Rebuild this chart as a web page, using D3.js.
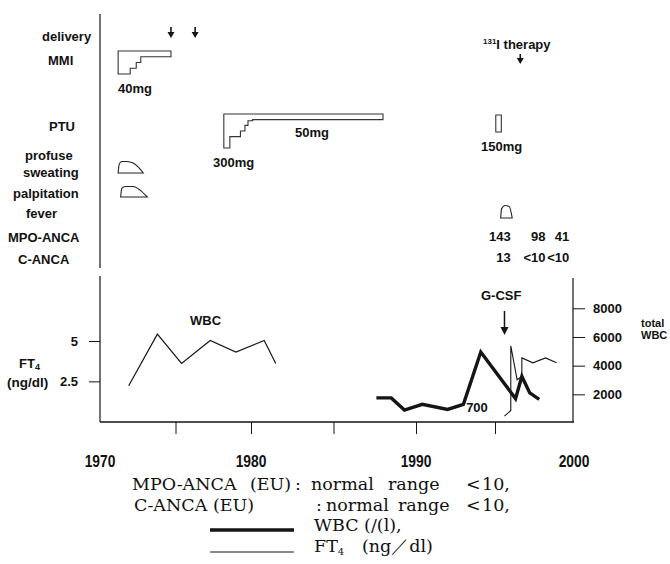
<!DOCTYPE html>
<html><head><meta charset="utf-8">
<script src="https://cdn.jsdelivr.net/npm/d3@7"></script>
<style>
body{margin:0;background:#fff}
svg{display:block}
.lab{font-family:"Liberation Sans",Arial,sans-serif;font-weight:bold;font-size:13px;fill:#111}
.leg{font-family:"DejaVu Serif","Liberation Serif",serif;font-size:17.5px;fill:#111}
</style></head><body>
<svg id="c" width="670" height="564"></svg>
<script>
// ---------- data ----------
const yearTicks = [1975, 1980, 1985, 1990, 1995];
const yearLabels = [1970, 1980, 1990, 2000];
const ft4Ticks = [2.5, 5];
const ft4TickLabels = ["2.5", "5"];
const wbcTicks = [2000, 4000, 6000, 8000];

const rowLabels = ["delivery", "MMI", "PTU", "profuse", "sweating", "palpitation", "fever", "MPO-ANCA", "C-ANCA"];

const deliveryYears = [1974.7, 1976.3];
const iodineYear = 1996.6;
const gcsfYear = 1995.6;

const mmiYears = [1971.2, 1972.0, 1972.4, 1972.7, 1974.7];
const mmiDoses = [40, 30, 20, 10, 10];
const ptuYears = [1978.2, 1978.6, 1979.3, 1979.6, 1979.8, 1980.1, 1988.0];
const ptuDoses = [300, 200, 150, 100, 60, 50, 50];
const ptu2Years = [1995.05, 1995.4];
const ptu2Doses = [150, 150];

const sweatYears = [1971.2, 1971.28, 1971.44, 1971.77, 1972.2, 1972.87];
const sweatLevel = [0, 0.78, 1, 1, 0.86, 0];
const palpYears = [1971.37, 1971.44, 1971.66, 1972.2, 1972.65, 1973.13];
const palpLevel = [0, 0.83, 1, 1, 0.66, 0];
const feverYears = [1995.36, 1995.42, 1995.63, 1995.9, 1996.09];
const feverLevel = [0, 0.75, 1, 0.92, 0];

const ancaYears = [1996.0, 1998.2, 1999.7];
const mpoAnca = ["143", "98", "41"];
const cAnca = ["13", "<10", "<10"];

const wbcEarlyYears = [1971.9, 1973.8, 1975.4, 1977.3, 1979.0, 1980.8, 1981.5];
const wbcEarly = [2600, 6200, 4150, 5750, 4950, 5750, 4150];
const wbcYears = [1987.6, 1988.5, 1989.3, 1990.4, 1992.0, 1993.0, 1994.1, 1996.3, 1996.7, 1997.2, 1997.8];
const wbcValues = [1750, 1750, 900, 1300, 950, 1300, 4950, 1700, 3250, 2100, 1650];
const ft4Years = [1995.6, 1996.0, 1996.0, 1996.4, 1996.7, 1996.7, 1997.4, 1998.2, 1998.9];
const ft4Values = [0.35, 0.7, 4.7, 2.6, 2.8, 3.95, 3.65, 3.95, 3.65];

// ---------- drawing ----------
const svg = d3.select("#c");
const x = d3.scaleLinear().domain([1970, 1980, 1990, 2000]).range([100, 251, 416, 574]);
const yFT4 = d3.scaleLinear().domain([0, 5]).range([421.7, 341]);
const yWBC = d3.scaleLinear().domain([0, 8000]).range([423, 308.3]);
const mmiScale = d3.scaleLinear().domain([0, 40]).range([0, 23]);
const ptuScale = d3.scaleLinear().domain([0, 300]).range([0, 34]);

const ink = "#151515";

// vertical frame lines
svg.append("line").attr("x1", x(1970)).attr("x2", x(1970)).attr("y1", 14).attr("y2", 268).attr("stroke", ink).attr("stroke-width", 1.2);
svg.append("line").attr("x1", x(1970)).attr("x2", x(1970)).attr("y1", 276).attr("y2", 422).attr("stroke", ink).attr("stroke-width", 1.2);
svg.append("line").attr("x1", x(2000) - 1).attr("x2", x(2000) - 1).attr("y1", 278).attr("y2", 422).attr("stroke", ink).attr("stroke-width", 1.2);

// bottom axis
const gx = svg.append("g").attr("transform", "translate(0,422)")
  .call(d3.axisBottom(x).tickValues(yearTicks).tickSize(12).tickFormat(""));
gx.select(".domain").attr("stroke", ink).attr("stroke-width", 1.3).attr("d", `M${x(1970)},0H${x(2000)}`);
gx.selectAll(".tick line").attr("stroke", ink);
svg.append("g").selectAll("text").data(yearLabels).join("text")
  .attr("class", "lab").attr("x", d => x(d)).attr("y", 467)
  .attr("text-anchor", "middle").style("font-size", "15px")
  .attr("transform", d => `translate(${x(d)},467) scale(0.92,1.15) translate(${-x(d)},-467)`)
  .text(d => d);

// left FT4 axis
const gl = svg.append("g").attr("transform", `translate(${x(1970)},0)`)
  .call(d3.axisLeft(yFT4).tickValues(ft4Ticks).tickSize(11).tickPadding(11).tickFormat((d, i) => ft4TickLabels[i]));
gl.select(".domain").remove();
gl.selectAll(".tick line").attr("stroke", ink);
gl.selectAll(".tick text").attr("class", "lab").attr("font-size", null).attr("font-family", null);

// right WBC axis
const gr = svg.append("g").attr("transform", `translate(${x(2000) - 1},0)`)
  .call(d3.axisRight(yWBC).tickValues(wbcTicks).tickSize(12).tickPadding(8).tickFormat(d3.format("d")));
gr.select(".domain").remove();
gr.selectAll(".tick line").attr("stroke", ink);
gr.selectAll(".tick text").attr("class", "lab").attr("font-size", null).attr("font-family", null);

// axis titles
const ft4t = svg.append("text").attr("class", "lab").attr("x", 19).attr("y", 368);
ft4t.append("tspan").text("FT");
ft4t.append("tspan").attr("dy", 2).style("font-size", "9px").text("4");
svg.append("text").attr("class", "lab").attr("x", 7).attr("y", 387).style("font-size", "13.5px").text("(ng/dl)");
svg.append("text").attr("class", "lab").attr("x", 641).attr("y", 327).style("font-size", "11px").text("total");
svg.append("text").attr("class", "lab").attr("x", 641).attr("y", 339).style("font-size", "11px").text("WBC");

// row labels
const rowPos = [[42, 41], [48, 65], [49, 131], [25, 160], [23, 177], [13, 198], [26, 218], [8, 242], [18, 264]];
svg.append("g").selectAll("text").data(rowLabels).join("text")
  .attr("class", "lab").attr("x", (d, i) => rowPos[i][0]).attr("y", (d, i) => rowPos[i][1]).text(d => d);

// arrows
function arrow(xc, y1, y2, head, w, sw) {
  svg.append("line").attr("x1", xc).attr("x2", xc).attr("y1", y1).attr("y2", y2 - head + 1).attr("stroke", ink).attr("stroke-width", sw);
  svg.append("path").attr("d", `M${xc - w / 2},${y2 - head}L${xc + w / 2},${y2 - head}L${xc},${y2}Z`).attr("fill", ink);
}
deliveryYears.forEach(d => arrow(x(d), 27, 38, 6, 7, 1.6));
arrow(x(iodineYear), 54, 64, 6, 7, 1.6);
arrow(x(gcsfYear), 311, 335, 8, 8, 1.5);

// 131I therapy
const it = svg.append("text").attr("class", "lab").attr("x", 483).attr("y", 49);
it.append("tspan").attr("dy", -5).style("font-size", "8px").text("131");
it.append("tspan").attr("dy", 5).text("I therapy");

// dose step shapes
function doseShape(years, doses, top, scale) {
  const pts = years.map((y, i) => ({ y, d: doses[i] }));
  const area = d3.area().curve(d3.curveStepAfter)
    .x(p => x(p.y)).y0(top).y1(p => top + scale(p.d));
  svg.append("path").attr("d", area(pts)).attr("fill", "none").attr("stroke", "#333").attr("stroke-width", 1.1);
}
doseShape(mmiYears, mmiDoses, 51, mmiScale);
doseShape(ptuYears, ptuDoses, 114, ptuScale);
doseShape(ptu2Years, ptu2Doses, 115, ptuScale);

svg.append("text").attr("class", "lab").attr("x", 118).attr("y", 93).text("40mg");
svg.append("text").attr("class", "lab").attr("x", 213).attr("y", 167).text("300mg");
svg.append("text").attr("class", "lab").attr("x", 295).attr("y", 137).text("50mg");
svg.append("text").attr("class", "lab").attr("x", 481).attr("y", 151).text("150mg");

// symptom shapes
function symptom(years, levels, base, h) {
  const pts = years.map((y, i) => ({ y, v: levels[i] }));
  const area = d3.area().curve(d3.curveMonotoneX)
    .x(p => x(p.y)).y0(base).y1(p => base - p.v * h);
  svg.append("path").attr("d", area(pts)).attr("fill", "none").attr("stroke", "#222").attr("stroke-width", 1.1);
}
symptom(sweatYears, sweatLevel, 173, 11.5);
symptom(palpYears, palpLevel, 197, 10.5);
symptom(feverYears, feverLevel, 218, 12.5);

// ANCA values
svg.append("g").selectAll("text").data(mpoAnca).join("text").attr("class", "lab")
  .attr("x", (d, i) => x(ancaYears[i])).attr("y", 241).attr("text-anchor", "end").text(d => d);
svg.append("g").selectAll("text").data(cAnca).join("text").attr("class", "lab")
  .attr("x", (d, i) => x(ancaYears[i])).attr("y", 262).attr("text-anchor", "end").text(d => d);

// lines
const lineWBC = d3.line().x(d => x(d[0])).y(d => yWBC(d[1]));
const lineFT4 = d3.line().x(d => x(d[0])).y(d => yFT4(d[1]));
svg.append("path").attr("d", lineWBC(d3.zip(wbcEarlyYears, wbcEarly)))
  .attr("fill", "none").attr("stroke", ink).attr("stroke-width", 1.2);
svg.append("path").attr("d", lineFT4(d3.zip(ft4Years, ft4Values)))
  .attr("fill", "none").attr("stroke", ink).attr("stroke-width", 1.1);
svg.append("path").attr("d", lineWBC(d3.zip(wbcYears, wbcValues)))
  .attr("fill", "none").attr("stroke", ink).attr("stroke-width", 3.4).attr("stroke-linejoin", "miter");

svg.append("text").attr("class", "lab").attr("x", 190).attr("y", 325).text("WBC");
svg.append("text").attr("class", "lab").attr("x", 477).attr("y", 412).attr("text-anchor", "middle").text("700");
svg.append("text").attr("class", "lab").attr("x", 481).attr("y", 300).text("G-CSF");

// legend
const L = svg.append("g").attr("class", "leg");
const legRows = [
  { y: 490, segs: [[132, "MPO-ANCA"], [250, "(EU)"], [295, ":"], [311, "normal"], [388, "range"], [466, "<"], [482, "10,"]] },
  { y: 510.5, segs: [[134, "C-ANCA"], [213, "(EU)"], [316, ":"], [326, "normal"], [398, "range"], [466, "<"], [482, "10,"]] }
];
legRows.forEach(r => {
  const t = L.append("text").attr("y", r.y);
  r.segs.forEach(s => t.append("tspan").attr("x", s[0]).text(s[1]));
});
L.append("line").attr("x1", 210).attr("x2", 294).attr("y1", 530).attr("y2", 530).attr("stroke", ink).attr("stroke-width", 3.4);
L.append("line").attr("x1", 210).attr("x2", 294).attr("y1", 552).attr("y2", 552).attr("stroke", ink).attr("stroke-width", 1.1);
L.append("text").attr("x", 314).attr("y", 531).text("WBC (/(l),");
const ft = L.append("text").attr("x", 314).attr("y", 552);
ft.append("tspan").text("FT");
ft.append("tspan").attr("dy", 3).style("font-size", "10px").text("4");
ft.append("tspan").attr("x", 362).attr("dy", -3).text("(ng／dl)");
</script>
</body></html>
